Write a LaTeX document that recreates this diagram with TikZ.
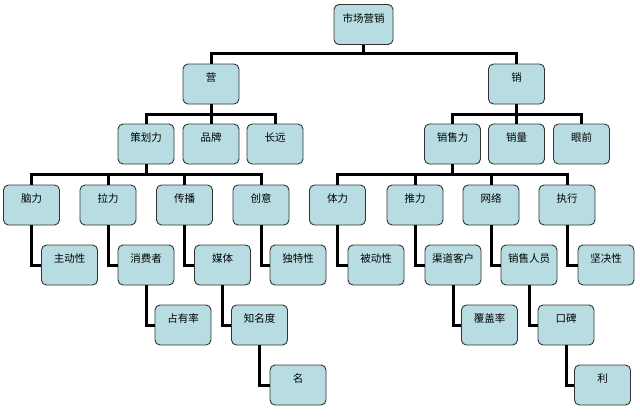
\documentclass[tikz,border=0pt]{standalone}
\usepackage{fontspec}
\newfontfamily\cjk{Noto Sans CJK SC}
\definecolor{boxfill}{HTML}{B7DDE3}
\definecolor{boxline}{HTML}{333333}
\tikzset{
  unit/.style={draw=boxline, line width=0.9pt, fill=boxfill, rounded corners=5pt,
    minimum width=56pt, inner sep=0pt, text height=17.5pt, text depth=22.5pt,
    font=\cjk\fontsize{10.5}{12}\selectfont},
  link/.style={line width=3pt, black}
}
\begin{document}
\begin{tikzpicture}[x=1pt, y=-1pt]
        \useasboundingbox[fill=white] (0,0) rectangle (640,418);

        % Top levels
        \node[unit, minimum width=59pt] (root) at (363.5,24.5) {市场营销};
        \node[unit] (ying) at (211,84) {营};
        \node[unit] (xiao) at (516.5,84) {销};

        % Second level
        \node[unit] (cehua) at (146,144) {策划力};
        \node[unit] (pinpai) at (211,144) {品牌};
        \node[unit] (changyuan) at (275,144) {长远};
        \node[unit] (xiaoshou) at (452.5,144) {销售力};
        \node[unit] (xiaoliang) at (516.5,144) {销量};
        \node[unit] (yanqian) at (581.5,144) {眼前};

        % Third level
        \node[unit] (naoli) at (31.5,205) {脑力};
        \node[unit] (lali) at (108,205) {拉力};
        \node[unit] (chuanbo) at (184.5,205) {传播};
        \node[unit] (chuangyi) at (261,205) {创意};
        \node[unit] (tili) at (337.5,205) {体力};
        \node[unit] (tuili) at (415,205) {推力};
        \node[unit] (wangluo) at (491,205) {网络};
        \node[unit] (zhixing) at (567,205) {执行};

        % Fourth level
        \node[unit] (zhudong) at (69.5,265) {主动性};
        \node[unit] (xiaofei) at (146,265) {消费者};
        \node[unit] (meiti) at (222.5,265) {媒体};
        \node[unit] (dute) at (298,265) {独特性};
        \node[unit] (beidong) at (376,265) {被动性};
        \node[unit] (qudao) at (453,265) {渠道客户};
        \node[unit] (renyuan) at (529,265) {销售人员};
        \node[unit] (jianjue) at (606,265) {坚决性};

        % Fifth and sixth level
        \node[unit] (zhanyou) at (183,325) {占有率};
        \node[unit] (zhiming) at (259.5,325) {知名度};
        \node[unit] (fugai) at (489.5,325) {覆盖率};
        \node[unit] (koubei) at (566,325) {口碑};
        \node[unit] (ming) at (298,385) {名};
        \node[unit] (li) at (602.5,385) {利};

        % Tree connectors
        \draw[link] (root.south) -- ++(0,9) -| (ying.north);
        \draw[link] (root.south) -- ++(0,9) -| (xiao.north);
        \draw[link] (ying.south) -- ++(0,10) -| (cehua.north);
        \draw[link] (ying.south) -- (pinpai.north);
        \draw[link] (ying.south) -- ++(0,10) -| (changyuan.north);
        \draw[link] (xiao.south) -- ++(0,10) -| (xiaoshou.north);
        \draw[link] (xiao.south) -- (xiaoliang.north);
        \draw[link] (xiao.south) -- ++(0,10) -| (yanqian.north);
        \draw[link] (cehua.south) -- ++(0,10) -| (naoli.north);
        \draw[link] (cehua.south) -- ++(0,10) -| (lali.north);
        \draw[link] (cehua.south) -- ++(0,10) -| (chuanbo.north);
        \draw[link] (cehua.south) -- ++(0,10) -| (chuangyi.north);
        \draw[link] (xiaoshou.south) -- ++(0,10) -| (tili.north);
        \draw[link] (xiaoshou.south) -- ++(0,10) -| (tuili.north);
        \draw[link] (xiaoshou.south) -- ++(0,10) -| (wangluo.north);
        \draw[link] (xiaoshou.south) -- ++(0,10) -| (zhixing.north);

        % Elbow connectors
        \draw[link] (naoli.south) |- (zhudong.west);
        \draw[link] (lali.south) |- (xiaofei.west);
        \draw[link] (chuanbo.south) |- (meiti.west);
        \draw[link] (chuangyi.south) |- (dute.west);
        \draw[link] (tili.south) |- (beidong.west);
        \draw[link] (tuili.south) |- (qudao.west);
        \draw[link] (wangluo.south) |- (renyuan.west);
        \draw[link] (zhixing.south) |- (jianjue.west);
        \draw[link] (xiaofei.south) |- (zhanyou.west);
        \draw[link] (meiti.south) |- (zhiming.west);
        \draw[link] (qudao.south) |- (fugai.west);
        \draw[link] (renyuan.south) |- (koubei.west);
        \draw[link] (zhiming.south) |- (ming.west);
        \draw[link] (koubei.south) |- (li.west);

    \end{tikzpicture}
\end{document}
